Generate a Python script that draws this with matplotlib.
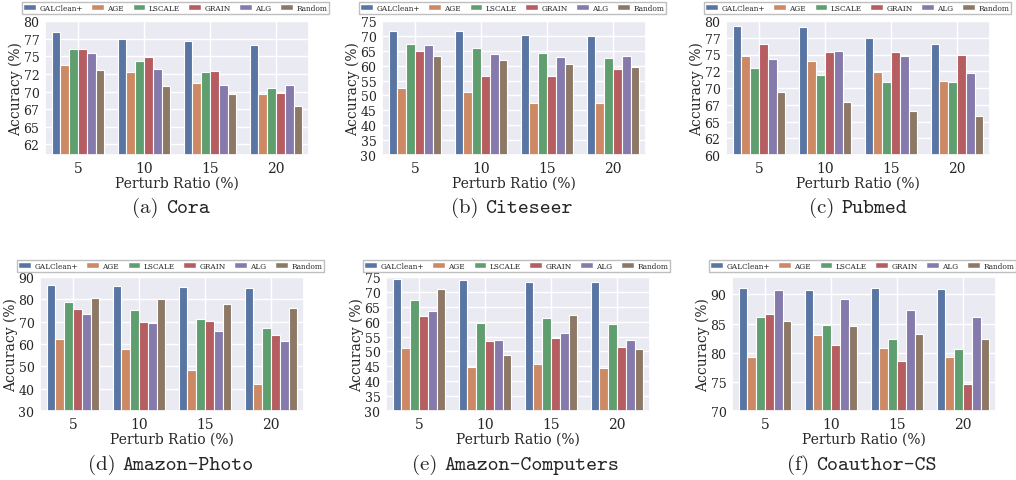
import matplotlib
matplotlib.use("Agg")
import matplotlib.pyplot as plt
import numpy as np
import seaborn as sns
from matplotlib.offsetbox import TextArea, HPacker, AnnotationBbox
from matplotlib.ticker import FuncFormatter

# perturbation ratios on the x axis
ratios = [5, 10, 15, 20]
methods = ["GALClean+", "AGE", "LSCALE", "GRAIN", "ALG", "Random"]

# accuracy (%) per method (rows) and ratio (columns)
cora_acc = [
    [78.5, 77.5, 77.2, 76.6],
    [73.8, 72.8, 71.2, 69.7],
    [76.0, 74.3, 72.8, 70.5],
    [76.1, 74.9, 72.9, 69.8],
    [75.5, 73.2, 70.9, 70.9],
    [73.1, 70.8, 69.6, 67.9],
]
citeseer_acc = [
    [71.6, 71.7, 70.4, 69.8],
    [52.4, 51.0, 47.6, 47.6],
    [67.2, 66.0, 64.3, 62.6],
    [64.9, 56.5, 56.6, 58.9],
    [66.8, 64.0, 63.0, 63.1],
    [63.2, 61.9, 60.5, 59.6],
]
pubmed_acc = [
    [79.2, 79.1, 77.4, 76.5],
    [74.8, 74.0, 72.4, 71.1],
    [73.0, 71.9, 70.9, 70.9],
    [76.6, 75.4, 75.3, 74.9],
    [74.3, 75.5, 74.8, 72.3],
    [69.4, 67.9, 66.6, 65.8],
]
photo_acc = [
    [86.4, 85.9, 85.6, 84.9],
    [62.3, 57.7, 48.2, 41.9],
    [78.9, 75.3, 71.4, 67.0],
    [75.7, 69.9, 70.5, 64.1],
    [73.5, 69.4, 65.9, 61.4],
    [80.5, 80.1, 77.7, 76.0],
]
computers_acc = [
    [74.4, 74.1, 73.4, 73.4],
    [51.3, 44.9, 45.8, 44.6],
    [67.4, 59.6, 61.1, 59.3],
    [62.0, 53.5, 54.5, 51.6],
    [63.5, 53.8, 56.3, 54.0],
    [71.0, 48.9, 62.1, 50.8],
]
cs_acc = [
    [91.1, 90.8, 91.1, 90.9],
    [79.2, 83.1, 80.8, 79.2],
    [86.2, 84.8, 82.4, 80.7],
    [86.7, 81.4, 78.6, 74.7],
    [90.8, 89.2, 87.4, 86.1],
    [85.4, 84.6, 83.3, 82.3],
]

sns.set_theme(style="darkgrid")
plt.rcParams["font.family"] = ["DejaVu Serif"]
colors = [sns.desaturate(c, 0.75) for c in sns.color_palette("deep", 6)]

W, H = 1016, 481
fig = plt.figure(figsize=(W / 100, H / 100), dpi=100)

# data, tag, name, ylim, yticks, axes (left, top) px, legend (left, top) px, caption center px
panels = [
    (cora_acc, "(a)", "Cora", (61, 80), np.arange(62.5, 80.1, 2.5), (45, 22), (22, 3), (171, 208)),
    (citeseer_acc, "(b)", "Citeseer", (30, 75), np.arange(30, 76, 5), (382, 22), (359, 3), (512, 208)),
    (pubmed_acc, "(c)", "Pubmed", (60, 80), np.arange(60, 80.1, 2.5), (726, 22), (704, 3), (858, 208)),
    (photo_acc, "(d)", "Amazon-Photo", (30, 90), np.arange(30, 91, 10), (40, 278), (17, 261), (171, 465)),
    (computers_acc, "(e)", "Amazon-Computers", (30, 75), np.arange(30, 76, 5), (386, 278), (363, 261), (516, 465)),
    (cs_acc, "(f)", "Coauthor-CS", (70, 93), np.arange(70, 91, 5), (732, 278), (709, 261), (862, 465)),
]

x = np.arange(len(ratios))
bw = 0.8 / len(methods)

for data, tag, name, ylim, yt, (ax0, ay0), (lx, ly), (cx, cy) in panels:
    aw, ah = 264, 134
    ax = fig.add_axes([ax0 / W, 1 - (ay0 + ah) / H, aw / W, ah / H])
    for i, m in enumerate(methods):
        ax.bar(x + (i - 2.5) * bw, data[i], width=bw, color=colors[i],
               edgecolor="white", linewidth=0.8, label=m)
    ax.set_xlim(-0.5, len(ratios) - 0.5)
    ax.set_ylim(*ylim)
    ax.set_yticks(yt)
    ax.yaxis.set_major_formatter(FuncFormatter(lambda v, p: f"{int(v)}"))
    ax.set_xticks(x)
    ax.set_xticklabels([str(r) for r in ratios])
    ax.tick_params(axis="x", labelsize=10, length=0, pad=4.5)
    ax.tick_params(axis="y", labelsize=9, length=0, pad=4)
    ax.set_xlabel("Perturb Ratio (%)", fontsize=10, labelpad=0)
    ax.set_ylabel("Accuracy (%)", fontsize=10, labelpad=0)

    leg = ax.legend(loc="upper left", bbox_to_anchor=(lx / W, 1 - ly / H),
                    bbox_transform=fig.transFigure, ncol=6, fontsize=5.3,
                    handlelength=1.6, handleheight=0.6, handletextpad=0.45,
                    columnspacing=1.3, borderpad=0.3, borderaxespad=0,
                    fancybox=False, frameon=True, facecolor="white",
                    edgecolor="0.75", framealpha=1)
    for h in leg.legend_handles:
        h.set_linewidth(0.3)

    # caption: serif tag + typewriter dataset name
    cap = HPacker(children=[
        TextArea(tag + " ", textprops=dict(family="cmr10", fontsize=15)),
        TextArea(name, textprops=dict(family="cmtt10", fontsize=15)),
    ], align="baseline", pad=0, sep=0)
    ab = AnnotationBbox(cap, (cx / W, 1 - cy / H), xycoords="figure fraction",
                        frameon=False, box_alignment=(0.5, 0.5), pad=0)
    fig.add_artist(ab)

fig.savefig("out.png", dpi=100)
